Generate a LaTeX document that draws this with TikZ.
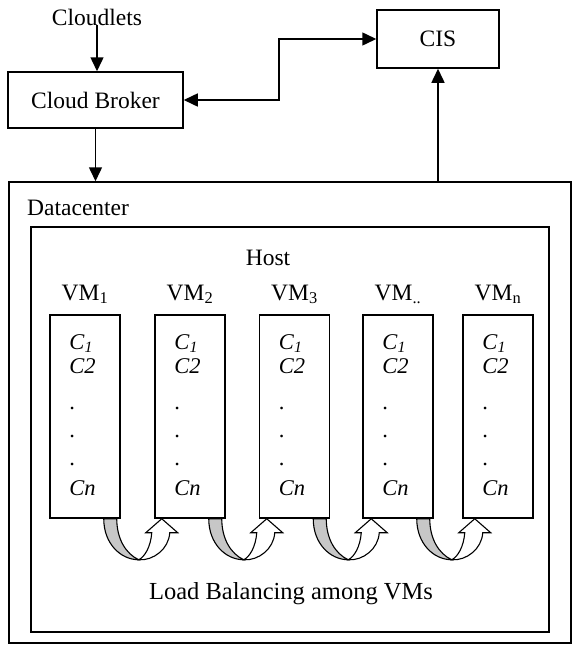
\documentclass[tikz,border=0pt]{standalone}
\usepackage{fontspec}
\setmainfont{Liberation Serif}
\usetikzlibrary{arrows.meta}
\begin{document}
\begin{tikzpicture}[x=1pt,y=-1pt,
  every node/.style={font=\fontsize{23.5}{28}\selectfont, inner sep=0pt},
  boxstyle/.style={draw, line width=1.5pt},
  vmbox/.style={boxstyle, minimum width=70pt, minimum height=203pt},
  conn/.style={line width=1.5pt},
  arr/.style={conn, -{Triangle[length=14pt,width=13pt]}},
  darr/.style={conn, {Triangle[length=14pt,width=13pt]}-{Triangle[length=14pt,width=13pt]}},
  band/.style={draw, line width=1.1pt, fill=black!22},
  whitearr/.style={draw, line width=1.1pt, fill=white},
  ctext/.style={anchor=base west, font=\fontsize{22.5}{26}\selectfont}
]
\useasboundingbox (0,0) rectangle (572,645);

% top boxes
\node[boxstyle, minimum width=175pt, minimum height=56pt] (broker) at (95.5,100) {Cloud Broker};
\node[boxstyle, minimum width=122pt, minimum height=58pt] (cis) at (438,39) {CIS};
\node[anchor=base] (cl) at (97,25) {Cloudlets};

% datacenter and host
\node[boxstyle, minimum width=562pt, minimum height=461pt] (dc) at (290,412.5) {};
\node[boxstyle, minimum width=518pt, minimum height=405pt] (host) at (290,429.5) {};
\node[anchor=base west] (dclabel) at (27,215) {Datacenter};
\node[anchor=base] (hostlabel) at (268,265) {Host};

% connectors
\draw[arr] (cl.south) -- (cl.south |- broker.north);
\draw[arr] (broker.south) -- (broker.south |- dc.north);
\draw[arr] (dc.north -| cis.south) -- (cis.south);
\coordinate (bend) at (279,100);
\draw[darr] (broker.east) -- (bend) |- (cis.west);

% VM boxes
\foreach \i/\cx/\sub in {1/85/1, 2/190/2, 3/294.5/3, 4/398/{..}, 5/498/n} {
  \node[vmbox] (vm\i) at (\cx,416.5) {};
  \node[anchor=base] (vmlabel\i) at (\cx,300) {VM\textsubscript{\sub}};
  \node[ctext] (c1\i) at ([xshift=20pt]vm\i.west |- 0,349) {\textit{C}\textsubscript{\textit{1}}};
  \node[ctext] (c2\i) at ([xshift=20pt]vm\i.west |- 0,373) {\textit{C2}};
  \node[ctext] (da\i) at ([xshift=20pt]vm\i.west |- 0,409) {.};
  \node[ctext] (db\i) at ([xshift=20pt]vm\i.west |- 0,437) {.};
  \node[ctext] (dd\i) at ([xshift=20pt]vm\i.west |- 0,465) {.};
  \node[ctext] (cn\i) at ([xshift=20pt]vm\i.west |- 0,495) {\textit{Cn}};
}

% curved load-balancing arrows
\foreach \i in {1,2,3,4} {
  \begin{scope}[shift={(vm\i.south east)}]
    \path[band] (-17,0) .. controls (-17,25) and (0,41) .. (18,41)
      .. controls (5,35) and (-4,20) .. (-4,0) -- cycle;
    \path[whitearr] (18,41) .. controls (33,42) and (48,30) .. (49,14)
      -- (57,14) -- (41,0) -- (25,14) -- (31,14)
      .. controls (30,28) and (24,38) .. (18,41) -- cycle;
  \end{scope}
}

\node[anchor=base, font=\fontsize{24.5}{29}\selectfont] (lb) at (291,599) {Load Balancing among VMs};
\end{tikzpicture}
\end{document}
